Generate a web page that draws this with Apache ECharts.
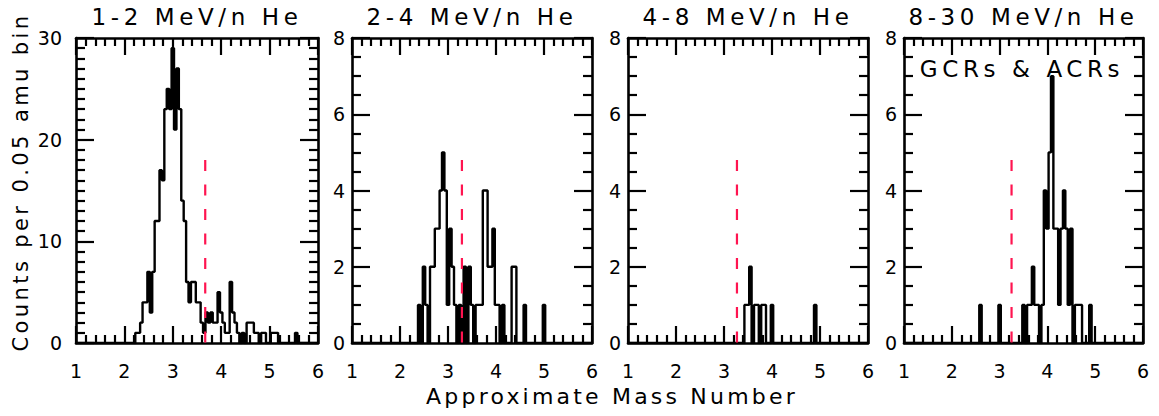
<!DOCTYPE html>
<html>
<head>
<meta charset="utf-8">
<title>He mass histograms</title>
<script src="https://cdn.jsdelivr.net/npm/echarts@6.0.0/dist/echarts.min.js"></script>
<style>
  html, body { margin: 0; padding: 0; background: #fff; }
  #chart { width: 1159px; height: 416px; }
  /* the original uses a wide vector font, so open the letters up a bit */
  #chart text[style*="23px"] { letter-spacing: 4.6px; }
  #chart text[style*="22px"] { letter-spacing: 3.2px; }
  #chart text[style*="21px"] { letter-spacing: 3.4px; }
</style>
</head>
<body>
<div id="chart"></div>
<script>
// bin size of the histograms (amu), values are bin centers
const binWidth = 0.05;

// 1-2 MeV/n He
const he12Start = 2.20;
const he12Counts = [0, 1, 1, 2, 4, 4, 7, 3, 7, 12, 12, 17, 16, 23, 25, 23, 29, 21, 27, 23,
  14, 12, 6, 4, 6, 6, 4, 4, 2, 1, 3, 2, 3, 2, 2, 5, 3, 2, 1, 1,
  6, 3, 2, 1, 0, 1, 0, 2, 2, 2, 1, 1, 0, 1, 1, 0, 0, 1, 1, 1,
  0, 0, 0, 0, 0, 0, 0, 1, 0];

// 2-4 MeV/n He
const he24Start = 2.40;
const he24Counts = [1, 0, 2, 1, 0, 2, 2, 3, 3, 4, 5, 4, 1, 3, 2, 1, 0, 1, 0, 2,
  0, 2, 1, 0, 1, 1, 1, 4, 4, 2, 2, 3, 1, 1, 0, 1, 0, 0, 0, 2,
  2, 0, 0, 0, 1, 0, 0, 0, 0, 0, 0, 0, 1, 0];

// 4-8 MeV/n He
const he48Start = 3.40;
const he48Counts = [0, 1, 1, 2, 0, 1, 1, 0, 1, 1, 0, 0, 1, 0, 0, 0, 0, 0, 0, 0,
  0, 0, 0, 0, 0, 0, 0, 0, 0, 0, 1, 0];

// 8-30 MeV/n He
const he830Start = 2.55;
const he830Counts = [0, 1, 0, 0, 0, 0, 0, 0, 0, 1, 0, 0, 0, 0, 0, 0, 0, 0, 0, 1,
  0, 1, 1, 2, 1, 1, 0, 1, 4, 3, 5, 7, 3, 3, 1, 3, 4, 3, 1, 3,
  0, 1, 1, 1, 0, 0, 0, 1, 0];

const panelTitles = ['1-2 MeV/n He', '2-4 MeV/n He', '4-8 MeV/n He', '8-30 MeV/n He'];
const panelStarts = [he12Start, he24Start, he48Start, he830Start];
const panelCounts = [he12Counts, he24Counts, he48Counts, he830Counts];

// y ranges
const yMax = [30, 8, 8, 8];
const yStep = [10, 2, 2, 2];
const yMinorSplit = [10, 4, 4, 4];

// red dashed markers: mass position and height in counts
const cutMass = [3.67, 3.29, 3.27, 3.25];
const cutTop = [18, 4.8, 4.8, 4.8];

// panel boxes in pixels
const gridLeft = [76, 352, 628, 904];
const gridWidth = [242, 240, 240, 239];
const gridTop = 38;
const gridHeight = 305;
const yLabelMargin = [14, 7, 7, 7];

const font = 'DejaVu Sans';
const black = '#000';
const red = '#ff1450';

// full 1..6 histogram, zero outside the stored range
const buildHist = (start, counts) => {
  const first = Math.round((start - 1) / binWidth);
  const total = Math.round(5 / binWidth);
  const pts = [];
  for (let k = 0; k <= total; k++) {
    const j = k - first;
    const c = (j >= 0 && j < counts.length) ? counts[j] : 0;
    pts.push([+(1 + k * binWidth).toFixed(2), c]);
  }
  return pts;
};

const axisLine = {show: true, onZero: false, lineStyle: {color: black, width: 2.6}};
const tickStyle = {color: black, width: 2.2};

const grid = [];
const xAxis = [];
const yAxis = [];
const series = [];
const graphic = [];

for (let i = 0; i < 4; i++) {
  grid.push({left: gridLeft[i], top: gridTop, width: gridWidth[i], height: gridHeight});

  // bottom and top x axes (ticks inside on both)
  ['bottom', 'top'].forEach(pos => {
    xAxis.push({
      gridIndex: i,
      type: 'value',
      position: pos,
      min: 1,
      max: 6,
      interval: 1,
      axisLine: axisLine,
      axisTick: {inside: true, length: 17, lineStyle: tickStyle},
      minorTick: {show: true, splitNumber: 5, length: 8, lineStyle: tickStyle},
      splitLine: {show: false},
      axisLabel: {
        show: pos === 'bottom',
        margin: 18,
        fontSize: 19,
        fontFamily: font,
        color: black
      }
    });
  });

  // left and right y axes
  ['left', 'right'].forEach(pos => {
    yAxis.push({
      gridIndex: i,
      type: 'value',
      position: pos,
      min: 0,
      max: yMax[i],
      interval: yStep[i],
      axisLine: axisLine,
      axisTick: {inside: true, length: 18, lineStyle: tickStyle},
      minorTick: {show: true, splitNumber: yMinorSplit[i], length: 9, lineStyle: tickStyle},
      splitLine: {show: false},
      axisLabel: {
        show: pos === 'left',
        margin: yLabelMargin[i],
        fontSize: 19,
        fontFamily: font,
        color: black
      }
    });
  });

  // histogram drawn as steps around the bin centers
  series.push({
    type: 'line',
    xAxisIndex: i * 2,
    yAxisIndex: i * 2,
    data: buildHist(panelStarts[i], panelCounts[i]),
    step: 'middle',
    symbol: 'none',
    silent: true,
    lineStyle: {color: black, width: 2.4}
  });

  // dashed marker
  series.push({
    type: 'line',
    xAxisIndex: i * 2,
    yAxisIndex: i * 2,
    data: [[cutMass[i], cutTop[i]], [cutMass[i], 0]],
    symbol: 'none',
    silent: true,
    z: 5,
    lineStyle: {color: red, width: 2.2, type: [11, 13.5]}
  });

  graphic.push({
    type: 'text',
    x: gridLeft[i] + gridWidth[i] / 2,
    y: 17,
    style: {
      text: panelTitles[i],
      fontSize: 23,
      fontFamily: font,
      fill: black,
      align: 'center',
      verticalAlign: 'middle'
    }
  });
}

graphic.push({
  type: 'text',
  x: 1022,
  y: 69,
  style: {text: 'GCRs & ACRs', fontSize: 23, fontFamily: font, fill: black, align: 'center', verticalAlign: 'middle'}
});
graphic.push({
  type: 'text',
  x: 612,
  y: 396,
  style: {text: 'Approximate Mass Number', fontSize: 22, fontFamily: font, fill: black, align: 'center', verticalAlign: 'middle'}
});
graphic.push({
  type: 'text',
  x: 21,
  y: 182,
  rotation: Math.PI / 2,
  style: {text: 'Counts per 0.05 amu bin', fontSize: 21, fontFamily: font, fill: black, align: 'center', verticalAlign: 'middle'}
});

const chart = echarts.init(document.getElementById('chart'), null, {renderer: 'svg'});
chart.setOption({
  animation: false,
  backgroundColor: '#fff',
  grid: grid,
  xAxis: xAxis,
  yAxis: yAxis,
  series: series,
  graphic: graphic
});
</script>
</body>
</html>
